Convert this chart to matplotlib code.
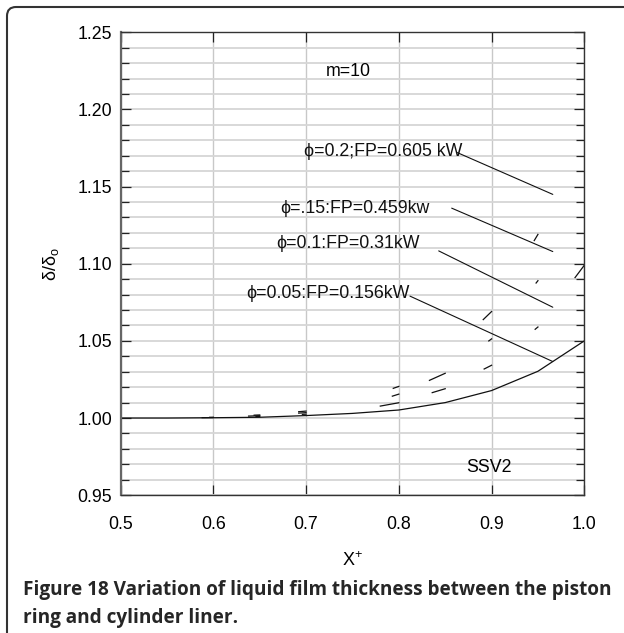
import matplotlib
matplotlib.use('Agg')
import matplotlib.pyplot as plt
import numpy as np
from matplotlib.ticker import MultipleLocator
from matplotlib.patches import FancyBboxPatch
from matplotlib.transforms import IdentityTransform

plt.rcParams['font.family'] = ['Liberation Sans', 'DejaVu Sans']
plt.rcParams['mathtext.fontset'] = 'custom'
plt.rcParams['mathtext.rm'] = 'Liberation Sans'
plt.rcParams['mathtext.it'] = 'Liberation Sans:italic'

# dimensionless position X+
x_plus = [0.5, 0.55, 0.6, 0.65, 0.7, 0.75, 0.8, 0.85, 0.9, 0.95, 1.0]

# film thickness ratio for each phi
phi_005 = [1.000, 1.000, 1.0002, 1.0005, 1.0016, 1.003, 1.0052, 1.010, 1.0178, 1.0303, 1.050]
phi_010 = [1.000, 1.000, 1.0003, 1.0010, 1.0025, 1.0045, 1.0099, 1.019, 1.0342, 1.059, 1.099]
phi_015 = [1.000, 1.000, 1.0005, 1.0015, 1.0035, 1.006, 1.0155, 1.029, 1.0513, 1.089, 1.148]
phi_020 = [1.000, 1.000, 1.0008, 1.0020, 1.0045, 1.010, 1.0205, 1.040, 1.069, 1.119, 1.200]

# only short pieces of the upper curves survive in the figure (length in X+ before each point)
tail_010 = [0, 0, 0.012, 0.004, 0.004, 0, 0.020, 0.014, 0.008, 0.003, 0.010]
tail_015 = [0, 0, 0.004, 0.012, 0.008, 0, 0.007, 0.017, 0.003, 0.002, 0]
tail_020 = [0, 0, 0, 0.006, 0.008, 0, 0.006, 0, 0.009, 0.004, 0]

labels = ['\u03d5=0.05:FP=0.156kW', '\u03d5=0.1:FP=0.31kW',
          '\u03d5=.15:FP=0.459kw', '\u03d5=0.2;FP=0.605 kW']


def pieces(x, y, tails):
    xs, ys = [], []
    for i, t in enumerate(tails):
        if t <= 0:
            continue
        x0 = x[i] - t
        xs += [x0, x[i], np.nan]
        ys += [np.interp(x0, x, y), y[i], np.nan]
    return xs, ys


fig = plt.figure(figsize=(6.24, 6.33), dpi=100)
ax = fig.add_axes([0.1933, 0.2177, 0.7431, 0.7314])

ax.plot(x_plus, phi_005, color='#111111', lw=0.9)
for curve, tails in [(phi_010, tail_010), (phi_015, tail_015), (phi_020, tail_020)]:
    xs, ys = pieces(x_plus, curve, tails)
    ax.plot(xs, ys, color='#111111', lw=0.9)

# labels with leader lines
label_pos = [(0.635, 1.0804), (0.668, 1.113), (0.672, 1.136), (0.698, 1.173)]
leader_start = [(0.812, 1.079), (0.843, 1.1083), (0.857, 1.136), (0.863, 1.172)]
x_end = 0.966
for curve, lab, (tx, ty), (sx, sy) in zip([phi_005, phi_010, phi_015, phi_020],
                                          labels, label_pos, leader_start):
    ax.text(tx, ty, lab, fontsize=12.8, ha='left', va='center', color='#111111')
    ax.annotate('', xy=(x_end, np.interp(x_end, x_plus, curve)), xytext=(sx, sy),
                arrowprops=dict(arrowstyle='-', lw=0.8, color='#111111',
                                shrinkA=0, shrinkB=0))

ax.text(0.745, 1.2247, 'm=10', fontsize=12.8, ha='center', va='center')
ax.text(0.8975, 0.9677, 'SSV2', fontsize=12.8, ha='center', va='center')

ax.set_xlim(0.5, 1.0)
ax.set_ylim(0.95, 1.25)
ax.xaxis.set_major_locator(MultipleLocator(0.1))
ax.yaxis.set_major_locator(MultipleLocator(0.05))
ax.yaxis.set_minor_locator(MultipleLocator(0.01))
ax.xaxis.set_major_formatter(plt.FuncFormatter(lambda v, p: f'{v:.1f}'))
ax.yaxis.set_major_formatter(plt.FuncFormatter(lambda v, p: f'{v:.2f}'))

ax.grid(which='both', axis='y', color='#d6d6d6', lw=1.3)
ax.grid(which='major', axis='x', color='#c8c8c8', lw=1.0)
ax.set_axisbelow(True)

ax.tick_params(which='both', direction='in', top=True, right=True,
               color='#222222', width=0.9, labelsize=12.8)
ax.tick_params(which='major', length=7)
ax.tick_params(which='minor', length=5.5)
ax.tick_params(axis='x', pad=15)
ax.tick_params(axis='y', pad=6)
for s in ax.spines.values():
    s.set_color('#333333')
    s.set_linewidth(1.0)
ax.spines['left'].set_linewidth(1.6)
ax.spines['left'].set_color('#666666')

ax.set_xlabel(r'X$^{+}$', fontsize=13, labelpad=13)
ax.set_ylabel(r'$\mathrm{\delta/\delta_o}$', fontsize=13, labelpad=12)

# outer frame of the figure panel
frame = FancyBboxPatch((7, -60), 720, 686, boxstyle='round,pad=0,rounding_size=9',
                       transform=IdentityTransform(), fill=False,
                       edgecolor='#333333', lw=1.5)
fig.patches.append(frame)

fig.text(0.037, 0.068, 'Figure 18 Variation of liquid film thickness between the piston',
         fontsize=13.7, fontweight='bold', family='Open Sans', color='#262626',
         ha='left', va='center')
fig.text(0.037, 0.023, 'ring and cylinder liner.',
         fontsize=13.7, fontweight='bold', family='Open Sans', color='#262626',
         ha='left', va='center')

fig.savefig('out.png', dpi=100)
